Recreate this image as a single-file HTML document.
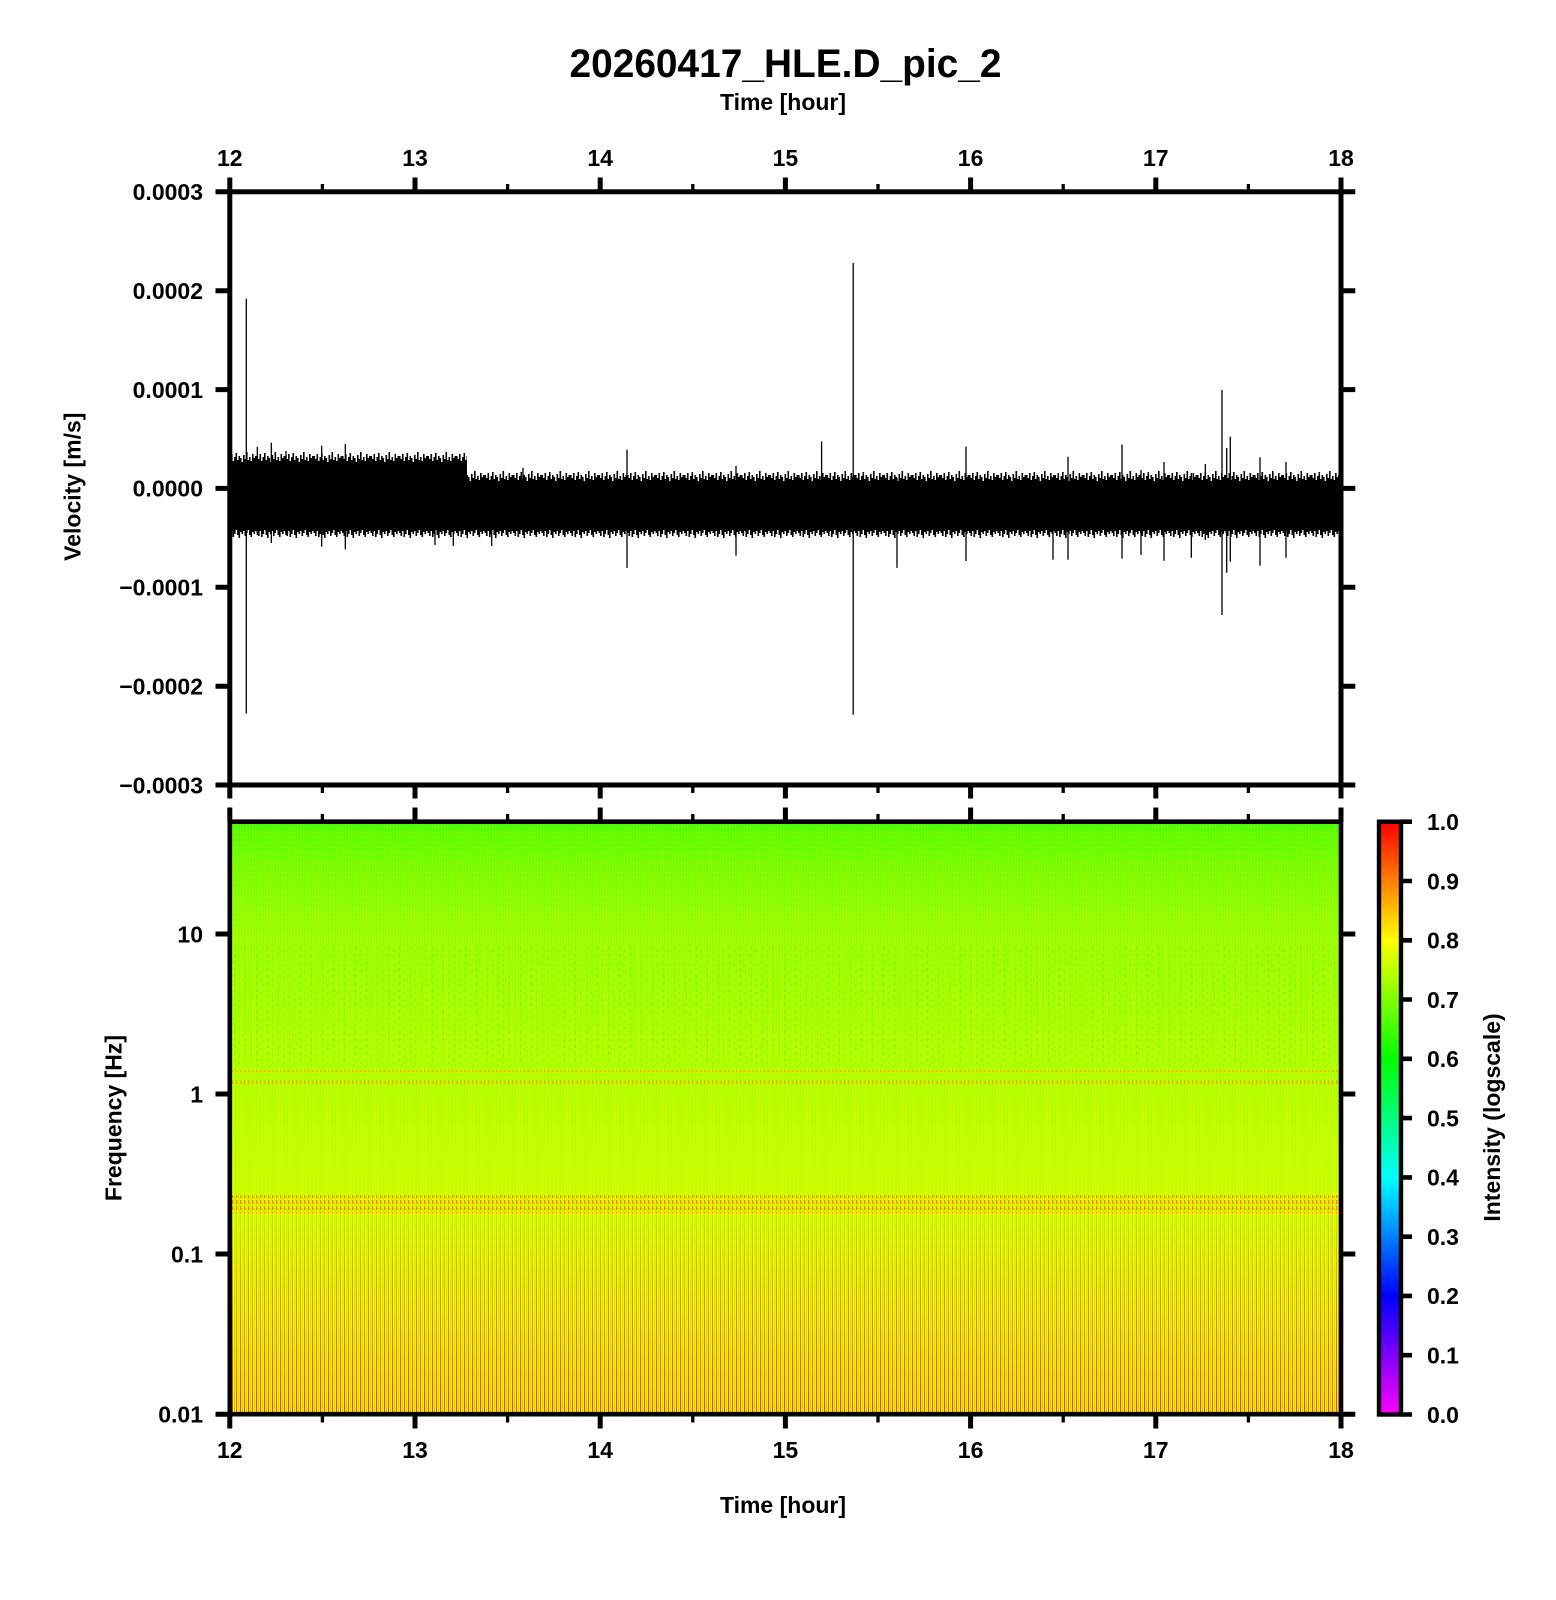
<!DOCTYPE html>
<html>
<head>
<meta charset="utf-8">
<style>
  html,body{margin:0;padding:0;background:#fff;}
  svg{display:block;}
  text{font-family:"Liberation Sans",Arial,Helvetica,sans-serif;font-weight:bold;fill:#000;}
</style>
</head>
<body>
<svg width="1556" height="1600" viewBox="0 0 1556 1600" xmlns="http://www.w3.org/2000/svg">
<defs>
  <linearGradient id="sg" gradientUnits="userSpaceOnUse" x1="0" y1="822" x2="0" y2="1414">
    <stop offset="0" stop-color="#3cff00"/>
    <stop offset="0.022" stop-color="#55ff00"/>
    <stop offset="0.08" stop-color="#70ff00"/>
    <stop offset="0.19" stop-color="#93ff00"/>
    <stop offset="0.30" stop-color="#a0ff00"/>
    <stop offset="0.46" stop-color="#acff00"/>
    <stop offset="0.605" stop-color="#b9ff00"/>
    <stop offset="0.73" stop-color="#c6ff00"/>
    <stop offset="0.86" stop-color="#d2ff00"/>
    <stop offset="1" stop-color="#dcff00"/>
  </linearGradient>
  <linearGradient id="cb" gradientUnits="userSpaceOnUse" x1="0" y1="821.7" x2="0" y2="1414.5">
    <stop offset="0" stop-color="#ff0000"/>
    <stop offset="0.2" stop-color="#ffff00"/>
    <stop offset="0.4" stop-color="#00ff00"/>
    <stop offset="0.6" stop-color="#00ffff"/>
    <stop offset="0.8" stop-color="#0000ff"/>
    <stop offset="1" stop-color="#ff00ff"/>
  </linearGradient>
  <linearGradient id="mg1" gradientUnits="userSpaceOnUse" x1="0" y1="1000" x2="0" y2="1414">
    <stop offset="0" stop-color="#000"/>
    <stop offset="0.3" stop-color="#444"/>
    <stop offset="0.6" stop-color="#aaa"/>
    <stop offset="1" stop-color="#ddd"/>
  </linearGradient>
  <linearGradient id="mg2" gradientUnits="userSpaceOnUse" x1="0" y1="1190" x2="0" y2="1414">
    <stop offset="0" stop-color="#000"/>
    <stop offset="0.35" stop-color="#666"/>
    <stop offset="1" stop-color="#f0f0f0"/>
  </linearGradient>
  <mask id="m1" maskUnits="userSpaceOnUse" x="0" y="0" width="1556" height="1600">
    <rect x="230" y="1000" width="1111" height="414" fill="url(#mg1)"/>
  </mask>
  <mask id="m2" maskUnits="userSpaceOnUse" x="0" y="0" width="1556" height="1600">
    <rect x="230" y="1190" width="1111" height="224" fill="url(#mg2)"/>
  </mask>
  <pattern id="ys" patternUnits="userSpaceOnUse" width="4" height="4">
    <rect x="1" y="0" width="1.5" height="4" fill="#ffff00"/>
  </pattern>
  <pattern id="rs" patternUnits="userSpaceOnUse" width="8" height="4">
    <rect x="0" y="0" width="1" height="4" fill="#ff2200"/>
    <rect x="2" y="0" width="1" height="4" fill="#ff9900" opacity="0.75"/>
    <rect x="4" y="0" width="1" height="4" fill="#ff4400"/>
    <rect x="6" y="0" width="1" height="4" fill="#ffaa00" opacity="0.75"/>
  </pattern>
  <pattern id="ob" patternUnits="userSpaceOnUse" width="4" height="6">
    <rect x="0" y="0" width="1.5" height="4" fill="#ff7a00"/>
    <rect x="2" y="2" width="1" height="3" fill="#ffcc00"/>
  </pattern>
  <pattern id="gs" patternUnits="userSpaceOnUse" width="11" height="7">
    <rect x="3" y="2" width="1" height="3" fill="#33ff00"/>
    <rect x="8" y="5" width="1" height="2" fill="#44ff00"/>
  </pattern>
  <pattern id="cl" patternUnits="userSpaceOnUse" width="3" height="5">
    <rect x="0" y="0" width="1" height="5" fill="#ffff00" opacity="0.25"/>
    <rect x="1" y="2" width="1" height="1" fill="#ccff00" opacity="0.4"/>
  </pattern>
  <pattern id="ft" patternUnits="userSpaceOnUse" width="28.5" height="14">
    <rect x="0" y="5" width="1.6" height="9"/>
    <rect x="1.5" y="8" width="1.6" height="6"/>
    <rect x="3" y="3" width="1.6" height="11"/>
    <rect x="4.5" y="10" width="1.6" height="4"/>
    <rect x="6" y="6" width="1.6" height="8"/>
    <rect x="7.5" y="2" width="1.6" height="12"/>
    <rect x="9" y="9" width="1.6" height="5"/>
    <rect x="10.5" y="5" width="1.6" height="9"/>
    <rect x="12" y="7" width="1.6" height="7"/>
    <rect x="13.5" y="11" width="1.6" height="3"/>
    <rect x="15" y="4" width="1.6" height="10"/>
    <rect x="16.5" y="8" width="1.6" height="6"/>
    <rect x="18" y="1" width="1.6" height="13"/>
    <rect x="19.5" y="9" width="1.6" height="5"/>
    <rect x="21" y="6" width="1.6" height="8"/>
    <rect x="22.5" y="10" width="1.6" height="4"/>
    <rect x="24" y="3" width="1.6" height="11"/>
    <rect x="25.5" y="7" width="1.6" height="7"/>
    <rect x="27" y="5" width="1.6" height="9"/>
  </pattern>
  <pattern id="fb" patternUnits="userSpaceOnUse" width="28.5" height="10">
    <rect x="0" y="0" width="1.6" height="5"/>
    <rect x="1.5" y="0" width="1.6" height="8"/>
    <rect x="3" y="0" width="1.6" height="3"/>
    <rect x="4.5" y="0" width="1.6" height="9"/>
    <rect x="6" y="0" width="1.6" height="6"/>
    <rect x="7.5" y="0" width="1.6" height="2"/>
    <rect x="9" y="0" width="1.6" height="7"/>
    <rect x="10.5" y="0" width="1.6" height="10"/>
    <rect x="12" y="0" width="1.6" height="4"/>
    <rect x="13.5" y="0" width="1.6" height="6"/>
    <rect x="15" y="0" width="1.6" height="3"/>
    <rect x="16.5" y="0" width="1.6" height="8"/>
    <rect x="18" y="0" width="1.6" height="5"/>
    <rect x="19.5" y="0" width="1.6" height="2"/>
    <rect x="21" y="0" width="1.6" height="7"/>
    <rect x="22.5" y="0" width="1.6" height="9"/>
    <rect x="24" y="0" width="1.6" height="4"/>
    <rect x="25.5" y="0" width="1.6" height="6"/>
    <rect x="27" y="0" width="1.6" height="3"/>
  </pattern>
</defs>

<rect x="0" y="0" width="1556" height="1600" fill="#fff"/>

<!-- Title -->
<text x="785.5" y="77" font-size="40" text-anchor="middle" textLength="432" lengthAdjust="spacingAndGlyphs">20260417_HLE.D_pic_2</text>
<text x="783" y="110" font-size="23" text-anchor="middle">Time [hour]</text>

<!-- ===== Spectrogram ===== -->
<rect x="230" y="822" width="1111" height="592" fill="url(#sg)"/>
<rect x="230" y="822" width="1111" height="592" fill="url(#cl)"/>
<rect x="230" y="945" width="1111" height="120" fill="url(#gs)" opacity="0.6"/>
<rect x="230" y="1000" width="1111" height="414" fill="url(#ys)" mask="url(#m1)"/>
<rect x="230" y="1190" width="1111" height="224" fill="url(#rs)" mask="url(#m2)"/>
<rect x="230" y="1070" width="1111" height="4" fill="url(#ob)" opacity="0.5"/>
<rect x="230" y="1080" width="1111" height="4" fill="url(#ob)" opacity="0.5"/>
<rect x="230" y="1192" width="1111" height="24" fill="url(#ys)" opacity="0.7"/>
<rect x="230" y="1195" width="1111" height="18" fill="url(#ob)" opacity="0.85"/>

<!-- ===== Seismogram trace ===== -->
<rect x="230" y="464" width="237" height="65"/>
<rect x="467" y="483" width="874" height="46"/>
<g transform="translate(0,451)"><rect x="230" y="0" width="237" height="14" fill="url(#ft)"/></g>
<g transform="translate(0,470)"><rect x="467" y="0" width="874" height="14" fill="url(#ft)"/></g>
<g transform="translate(0,528)"><rect x="230" y="0" width="1111" height="10" fill="url(#fb)"/></g>
<path stroke="#000" stroke-width="1.3" fill="none" d="
M246.3 298.7V713.6
M853.2 263V714.6
M1222 390V615
M1226.7 448V572.7
M1230.3 436.7V561.7
M1164 462V560.7
M1191.3 473V557.7
M1205.3 464V540
M1260 457.3V565.7
M1286 462V557.7
M257.3 446.7V535
M271.3 442.7V543
M286 451V535
M321.7 445.7V546.7
M345.3 444V549.3
M435 460V545
M453.3 460V546
M491.7 478V546
M523 467.7V535
M627 449.6V567.9
M821.6 441.5V535
M966 446.6V561
M736 465.9V555.6
M897 478V567.9
M1068 456.7V559.7
M1122 444.5V558.7
M1053 478V559.7
M1141 470V555
"/>

<!-- ===== Upper panel frame & ticks ===== -->
<rect x="229.8" y="191.8" width="1111.2" height="593.2" fill="none" stroke="#000" stroke-width="5"/>
<g stroke="#000" stroke-width="5">
  <path d="M229.8 177.5V191.8M415 177.5V191.8M600.2 177.5V191.8M785.4 177.5V191.8M970.6 177.5V191.8M1155.8 177.5V191.8M1341 177.5V191.8"/>
  <path d="M229.8 785V798.5M415 785V798.5M600.2 785V798.5M785.4 785V798.5M970.6 785V798.5M1155.8 785V798.5M1341 785V798.5"/>
  <path d="M215.5 191.8H229.8M215.5 290.7H229.8M215.5 389.6H229.8M215.5 488.4H229.8M215.5 587.3H229.8M215.5 686.2H229.8M215.5 785H229.8"/>
  <path d="M1341 191.8H1355.3M1341 290.7H1355.3M1341 389.6H1355.3M1341 488.4H1355.3M1341 587.3H1355.3M1341 686.2H1355.3M1341 785H1355.3"/>
</g>
<g stroke="#000" stroke-width="3.3">
  <path d="M322.4 184V191.8M507.6 184V191.8M692.8 184V191.8M878 184V191.8M1063.2 184V191.8M1248.4 184V191.8"/>
  <path d="M322.4 785V793M507.6 785V793M692.8 785V793M878 785V793M1063.2 785V793M1248.4 785V793"/>
</g>

<!-- ===== Spectrogram frame & ticks ===== -->
<rect x="229.8" y="821.7" width="1111.2" height="592.5" fill="none" stroke="#000" stroke-width="4.6"/>
<g stroke="#000" stroke-width="5">
  <path d="M229.8 807.5V821.7M415 807.5V821.7M600.2 807.5V821.7M785.4 807.5V821.7M970.6 807.5V821.7M1155.8 807.5V821.7M1341 807.5V821.7"/>
  <path d="M229.8 1414.2V1428.5M415 1414.2V1428.5M600.2 1414.2V1428.5M785.4 1414.2V1428.5M970.6 1414.2V1428.5M1155.8 1414.2V1428.5M1341 1414.2V1428.5"/>
  <path d="M215.5 934H229.8M215.5 1094H229.8M215.5 1254H229.8M215.5 1414.2H229.8"/>
  <path d="M1341 934H1355.3M1341 1094H1355.3M1341 1254H1355.3M1341 1414.2H1355.3"/>
</g>
<g stroke="#000" stroke-width="3.3">
  <path d="M322.4 814V821.7M507.6 814V821.7M692.8 814V821.7M878 814V821.7M1063.2 814V821.7M1248.4 814V821.7"/>
  <path d="M322.4 1414.2V1422.5M507.6 1414.2V1422.5M692.8 1414.2V1422.5M878 1414.2V1422.5M1063.2 1414.2V1422.5M1248.4 1414.2V1422.5"/>
</g>

<!-- ===== Colorbar ===== -->
<rect x="1379" y="821.7" width="22" height="592.8" fill="url(#cb)"/>
<rect x="1379" y="821.7" width="22" height="592.8" fill="none" stroke="#000" stroke-width="4.4"/>
<path stroke="#000" stroke-width="4.6" d="M1401 821.7H1412M1401 881H1412M1401 940.3H1412M1401 999.5H1412M1401 1058.8H1412M1401 1118.1H1412M1401 1177.4H1412M1401 1236.7H1412M1401 1295.9H1412M1401 1355.2H1412M1401 1414.5H1412"/>

<!-- ===== Tick labels ===== -->
<g font-size="23" text-anchor="middle">
  <text x="229.8" y="166">12</text>
  <text x="415" y="166">13</text>
  <text x="600.2" y="166">14</text>
  <text x="785.4" y="166">15</text>
  <text x="970.6" y="166">16</text>
  <text x="1155.8" y="166">17</text>
  <text x="1341" y="166">18</text>

  <text x="229.8" y="1458">12</text>
  <text x="415" y="1458">13</text>
  <text x="600.2" y="1458">14</text>
  <text x="785.4" y="1458">15</text>
  <text x="970.6" y="1458">16</text>
  <text x="1155.8" y="1458">17</text>
  <text x="1341" y="1458">18</text>
</g>
<g font-size="23" text-anchor="end">
  <text x="203" y="200.1">0.0003</text>
  <text x="203" y="299">0.0002</text>
  <text x="203" y="397.9">0.0001</text>
  <text x="203" y="496.7">0.0000</text>
  <text x="203" y="595.6">&#8722;0.0001</text>
  <text x="203" y="694.5">&#8722;0.0002</text>
  <text x="203" y="793.3">&#8722;0.0003</text>

  <text x="203" y="942.3">10</text>
  <text x="203" y="1102.3">1</text>
  <text x="203" y="1262.3">0.1</text>
  <text x="203" y="1422.5">0.01</text>
</g>
<g font-size="23" text-anchor="start">
  <text x="1427" y="830">1.0</text>
  <text x="1427" y="889.3">0.9</text>
  <text x="1427" y="948.6">0.8</text>
  <text x="1427" y="1007.8">0.7</text>
  <text x="1427" y="1067.1">0.6</text>
  <text x="1427" y="1126.4">0.5</text>
  <text x="1427" y="1185.7">0.4</text>
  <text x="1427" y="1245">0.3</text>
  <text x="1427" y="1304.2">0.2</text>
  <text x="1427" y="1363.5">0.1</text>
  <text x="1427" y="1422.8">0.0</text>
</g>

<!-- Axis labels -->
<text transform="translate(80.7,486.7) rotate(-90)" x="0" y="0" font-size="23" text-anchor="middle">Velocity [m/s]</text>
<text transform="translate(121.7,1118) rotate(-90)" x="0" y="0" font-size="23" text-anchor="middle">Frequency [Hz]</text>
<text transform="translate(1500,1117.5) rotate(-90)" x="0" y="0" font-size="23" text-anchor="middle">Intensity (logscale)</text>
<text x="783" y="1513" font-size="23" text-anchor="middle">Time [hour]</text>
</svg>
</body>
</html>
